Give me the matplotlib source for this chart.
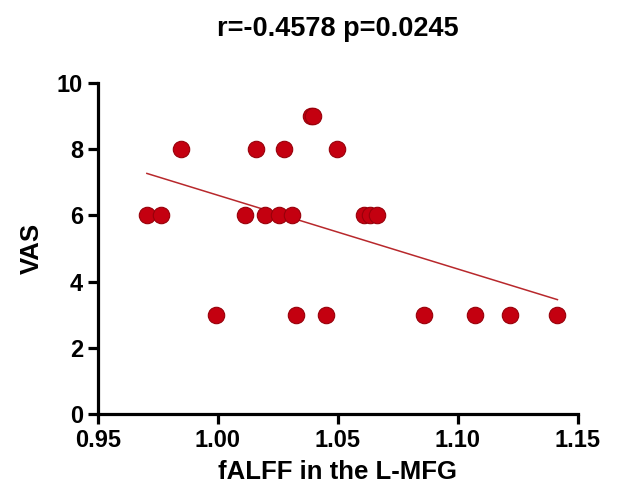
import numpy as np
import matplotlib
matplotlib.use("Agg")
import matplotlib.pyplot as plt

# Data
falff = [0.9705, 0.9763, 1.0112, 1.0198, 1.0256, 1.0309, 1.0608, 1.0635, 1.0663,
         0.9847, 1.0158, 1.0276, 1.0497,
         1.0388, 1.0398,
         0.9995, 1.0328, 1.0452, 1.0860, 1.1072, 1.1217, 1.1415]
vas = [6, 6, 6, 6, 6, 6, 6, 6, 6,
       8, 8, 8, 8,
       9, 9,
       3, 3, 3, 3, 3, 3, 3]
title_text = "r=-0.4578 p=0.0245"
xticks = [0.95, 1.00, 1.05, 1.10, 1.15]
yticks = [0, 2, 4, 6, 8, 10]

plt.rcParams['font.family'] = ['Liberation Sans', 'DejaVu Sans']
fig = plt.figure(figsize=(6.22, 4.96), dpi=100)
ax = fig.add_axes([0.157, 0.165, 0.772, 0.668])

x = np.array(falff)
y = np.array(vas)
ax.scatter(x, y, s=140, color='#c40010', edgecolors='#98000a', linewidths=0.8, zorder=3)
m, b = np.polyfit(x, y, 1)
xl = np.array([x.min(), x.max()])
ax.plot(xl, m * xl + b, color='#b8282c', lw=1.1, zorder=2)

ax.set_xlim(0.95, 1.15)
ax.set_ylim(0, 10)
ax.set_xticks(xticks)
ax.set_xticklabels([f"{t:.2f}" for t in xticks])
ax.set_yticks(yticks)
for s in ['top', 'right']:
    ax.spines[s].set_visible(False)
for s in ['left', 'bottom']:
    ax.spines[s].set_linewidth(2.3)
ax.tick_params(axis='both', length=7.5, width=2.3, labelsize=17, pad=3)
for lab in ax.get_xticklabels() + ax.get_yticklabels():
    lab.set_fontweight('bold')
ax.set_xlabel("fALFF in the L-MFG", fontsize=18.5, fontweight='bold', labelpad=6)
ax.set_ylabel("VAS", fontsize=18.5, fontweight='bold', labelpad=9)
ax.set_title(title_text, fontsize=19.5, fontweight='bold', pad=34)

fig.savefig("out.png", dpi=100)
